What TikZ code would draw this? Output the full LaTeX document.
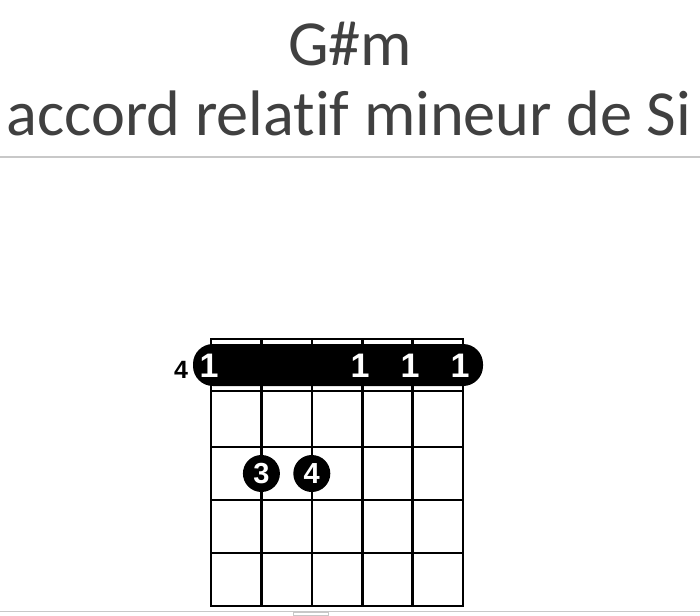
\documentclass[tikz,border=0pt]{standalone}
\usepackage{fontspec}
\setmainfont{Carlito}[Ligatures=NoCommon]
\newfontfamily\digitfont{Liberation Sans}[Scale=1.0]
\definecolor{titlegray}{HTML}{404040}
\definecolor{sepgray}{HTML}{C8C8C8}
\begin{document}
\begin{tikzpicture}[x=1pt,y=-1pt,
  titletext/.style={anchor=base,inner sep=0pt,text=titlegray,font=\fontsize{64.3}{64.3}\selectfont},
  sepline/.style={draw=sepgray,line width=1.5pt},
  gridline/.style={line width=2.6pt,black,line cap=rect},
  nutline/.style={line width=1.8pt,black,line cap=rect},
  barrebox/.style={fill=black,rounded corners=20pt},
  barrenum/.style={inner sep=0pt,text=white,font=\fontsize{34}{34}\digitfont\bfseries},
  fingerdot/.style={circle,fill=black,minimum size=37pt,inner sep=0pt,text=white,font=\fontsize{29}{29}\digitfont\bfseries},
  fretlabel/.style={inner sep=0pt,text=black,font=\fontsize{25}{25}\digitfont\bfseries}]
\useasboundingbox (0,0) rectangle (700,615);
\fill[white] (0,0) rectangle (700,615);
% titles
\node[titletext] (t1) at (350,66) {G\#m};
\node[titletext] (t2) at (349,135) {accord relatif mineur de Si};
\coordinate (sepL) at (0,157);
\coordinate (sepR) at (700,157);
\draw[sepline] (sepL) -- (sepR);
% strings
\foreach \i/\x in {1/211,2/261.4,3/311.8,4/362.2,5/412.6,6/463}{
  \coordinate (s\i t) at (\x,339);
  \coordinate (s\i b) at (\x,606);
  \draw[gridline] (s\i t) -- (s\i b);
}
% frets
\coordinate (f0l) at (211,339); \coordinate (f0r) at (463,339);
\draw[nutline] (f0l) -- (f0r);
\foreach \j/\y in {1/391,2/447,3/500,4/553,5/606}{
  \coordinate (f\j l) at (211,\y);
  \coordinate (f\j r) at (463,\y);
  \draw[gridline] (f\j l) -- (f\j r);
}
% barre
\fill[barrebox] (193,344) rectangle (483,386);
\node[barrenum] (b1) at (209,365.5) {1};
\node[barrenum] (b4) at (360,365.5) {1};
\node[barrenum] (b5) at (410,365.5) {1};
\node[barrenum] (b6) at (460,365.5) {1};
\node[fretlabel] (fr) at (181,369.5) {4};
% finger dots
\node[fingerdot] (d3) at (261.4,473.5) {3};
\node[fingerdot] (d4) at (311.8,473.5) {4};
% bottom edge
\coordinate (botL) at (0,611);
\coordinate (botR) at (700,611);
\draw[draw=sepgray,line width=1pt] (botL) -- (botR);
\draw[draw=sepgray,line width=1pt] (293,615.5) rectangle (328,612.5);
\end{tikzpicture}
\end{document}
